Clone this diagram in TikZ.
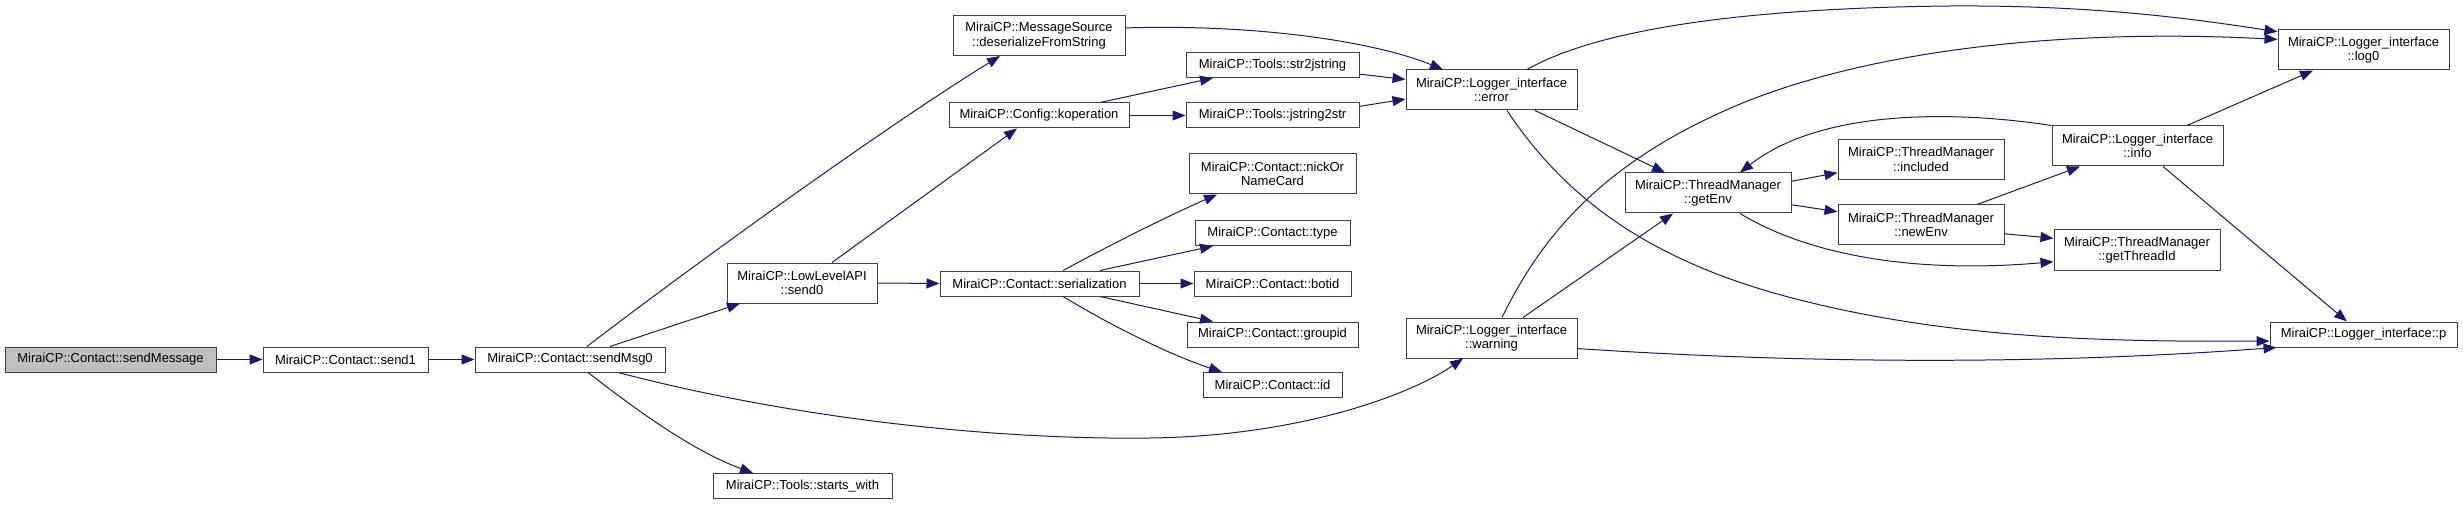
\documentclass[tikz,border=0pt]{standalone}
\usepackage{fontspec}
\setmainfont{Liberation Sans}
\usetikzlibrary{arrows.meta}
\definecolor{edgeblue}{RGB}{25,25,112}
\definecolor{rootgray}{RGB}{191,191,191}
\definecolor{boxgray}{RGB}{64,64,64}

\begin{document}
\begin{tikzpicture}[x=1pt,y=1pt,yscale=-1,
  func/.style={draw=boxgray, line width=1pt, fill=white, align=center, inner sep=0pt,
    minimum height=25pt, font=\fontsize{13}{14.7}\selectfont},
  func2/.style={func, minimum height=40pt},
  call/.style={draw=edgeblue, line width=1pt, -{Triangle[length=13pt,width=10pt,fill=edgeblue]}}]
\useasboundingbox (0,0) rectangle (2463,505);

% Text Node
\node[func, fill=rootgray, minimum width=211pt] (sendMessage) at (110.5,359.5) {MiraiCP::Contact::sendMessage};
\node[func, minimum width=165pt] (send1) at (345.5,359.5) {MiraiCP::Contact::send1};
\node[func, minimum width=190pt] (sendMsg0) at (570,359.5) {MiraiCP::Contact::sendMsg0};
\node[func2, minimum width=172pt] (deserialize) at (1039,35.5) {MiraiCP::MessageSource\\::deserializeFromString};
\node[func2, minimum width=150pt] (send0) at (802,283) {MiraiCP::LowLevelAPI\\::send0};
\node[func, minimum width=179pt] (startsWith) at (802.5,486) {MiraiCP::Tools::starts\_with};
\node[func, minimum width=180pt] (koperation) at (1039,115.5) {MiraiCP::Config::koperation};
\node[func, minimum width=199pt] (serialization) at (1039.5,283.5) {MiraiCP::Contact::serialization};
\node[func, minimum width=173pt] (str2jstring) at (1272.5,65) {MiraiCP::Tools::str2jstring};
\node[func, minimum width=173pt] (jstring2str) at (1272.5,115.5) {MiraiCP::Tools::jstring2str};
\node[func2, minimum width=167pt] (nickOrNameCard) at (1272.5,174) {MiraiCP::Contact::nickOr\\NameCard};
\node[func, minimum width=155pt] (type) at (1272.5,233) {MiraiCP::Contact::type};
\node[func, minimum width=157pt] (botid) at (1272.5,283.5) {MiraiCP::Contact::botid};
\node[func, minimum width=171pt] (groupid) at (1272.5,334.5) {MiraiCP::Contact::groupid};
\node[func, minimum width=139pt] (id) at (1272.5,385) {MiraiCP::Contact::id};
\node[func2, minimum width=171pt] (error) at (1491.5,90) {MiraiCP::Logger\_interface\\::error};
\node[func2, minimum width=171pt] (warning) at (1491.5,338) {MiraiCP::Logger\_interface\\::warning};
\node[func2, minimum width=166pt] (getEnv) at (1708,193) {MiraiCP::ThreadManager\\::getEnv};
\node[func2, minimum width=166pt] (included) at (1921,159.5) {MiraiCP::ThreadManager\\::included};
\node[func2, minimum width=166pt] (newEnv) at (1921,225) {MiraiCP::ThreadManager\\::newEnv};
\node[func2, minimum width=171pt] (log0) at (2363.5,50) {MiraiCP::Logger\_interface\\::log0};
\node[func2, minimum width=171pt] (info) at (2137.5,146) {MiraiCP::Logger\_interface\\::info};
\node[func2, minimum width=166pt] (getThreadId) at (2137,250) {MiraiCP::ThreadManager\\::getThreadId};
\node[func, minimum width=187pt] (p) at (2363.5,334.5) {MiraiCP::Logger\_interface::p};

%Straight Lines
\draw[call] (sendMessage) -- (send1);
\draw[call] (send1) -- (sendMsg0);
\draw[call] ([xshift=40pt]sendMsg0.north) -- ([xshift=-62pt]send0.south);
\draw[call] ([xshift=30pt]send0.north) -- ([xshift=-22pt]koperation.south);
\draw[call] (send0.east) -- (serialization.west);
\draw[call] ([xshift=61pt]koperation.north) -- ([xshift=-59.5pt]str2jstring.south);
\draw[call] (koperation) -- (jstring2str);
\draw[call] (str2jstring.-6.6) -- (error.173.3);
\draw[call] (jstring2str.6.9) -- (error.186.7);
\draw[call] ([xshift=60.5pt]serialization.north) -- ([xshift=-59.5pt]type.south);
\draw[call] (serialization) -- (botid);
\draw[call] ([xshift=60.5pt]serialization.south) -- ([xshift=-59.5pt]groupid.north);
\draw[call] ([xshift=43.5pt]error.south) -- ([xshift=-43pt]getEnv.north);
\draw[call] ([xshift=31.5pt]warning.north) -- ([xshift=-35pt]getEnv.south);
\draw[call] (getEnv.8.9) -- (included.189.2);
\draw[call] (getEnv.-8.9) -- (newEnv.171);
\draw[call] ([xshift=56pt]newEnv.north) -- ([xshift=-57.5pt]info.south);
\draw[call] (newEnv.-6.2) -- (getThreadId.172.5);
\draw[call] ([xshift=49.5pt]info.north) -- ([xshift=-50.5pt]log0.south);
\draw[call] ([xshift=25.5pt]info.south) -- ([xshift=-16.5pt]p.north);

%Curve Lines
\draw[call] ([xshift=17pt]sendMsg0.north) .. controls (680,275) and (880,130) .. ([xshift=-39pt]deserialize.south);
\draw[call] ([xshift=48pt]sendMsg0.south) .. controls (800,420) and (1000,440) .. (1150,438) .. controls (1300,436) and (1410,395) .. ([xshift=-28.5pt]warning.south);
\draw[call] ([xshift=18pt]sendMsg0.south) .. controls (630,405) and (690,450) .. ([xshift=-49.5pt]startsWith.north);
\draw[call] (deserialize.5) .. controls (1250,24) and (1370,40) .. ([xshift=-48.5pt]error.north);
\draw[call] ([xshift=23.5pt]serialization.north) .. controls (1110,245) and (1170,215) .. ([xshift=-55.5pt]nickOrNameCard.south);
\draw[call] ([xshift=23.5pt]serialization.south) .. controls (1110,325) and (1170,355) .. ([xshift=-50.5pt]id.north);
\draw[call] ([xshift=35.5pt]error.north) .. controls (1600,28) and (1750,8) .. (1950,6) .. controls (2100,5) and (2200,20) .. (log0.168.8);
\draw[call] ([xshift=15.5pt]error.south) .. controls (1560,190) and (1640,260) .. (1800,300) .. controls (1950,338) and (2100,342) .. (p.184.6);
\draw[call] ([xshift=10.5pt]warning.north) .. controls (1540,240) and (1600,160) .. (1750,100) .. controls (1900,42) and (2100,30) .. (log0.173.3);
\draw[call] (warning.-7.3) .. controls (1750,360) and (2000,368) .. ([xshift=7pt]p.south west);
\draw[call] ([xshift=32pt]getEnv.south) .. controls (1800,250) and (1900,275) .. (getThreadId.188.8);
\draw[call] (info.north west) .. controls (1950,110) and (1820,110) .. ([xshift=32pt]getEnv.north);

\end{tikzpicture}
\end{document}
